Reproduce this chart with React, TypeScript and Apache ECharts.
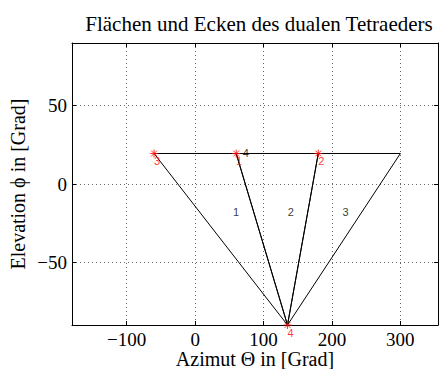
import React, { useEffect, useRef } from "react";
import * as echarts from "echarts";

const titleText = "Flächen und Ecken des dualen Tetraeders";
const xName = "Azimut Θ in [Grad]";
const yName = "Elevation ϕ in [Grad]";

const xTicks = [-100, 0, 100, 200, 300];
const yTicks = [-50, 0, 50];
const xMin = -180;
const xMax = 355;
const yMin = -90;
const yMax = 90;

// vertices of the dual tetrahedron (red)
const vertexAz = [60, 180, -60, 135];
const vertexEl = [19.47, 19.47, 19.47, -90];
const vertexLabels = ["1", "2", "3", "4"];

// face outlines
const face1Az = [-60, 60, 135, -60];
const face1El = [19.47, 19.47, -90, 19.47];
const face2Az = [60, 180, 135, 60];
const face2El = [19.47, 19.47, -90, 19.47];
const face3Az = [180, 300, 135, 180];
const face3El = [19.47, 19.47, -90, 19.47];

// face labels (black)
const faceLabelAz = [60, 140, 220, 74];
const faceLabelEl = [-18, -18, -18, 19.5];
const faceLabels = ["1", "2", "3", "4"];

const serif = "Liberation Serif";
const sans = "Liberation Sans";
const minus = (v: number) => String(v).replace("-", "\u2212");

const star =
  "path://M0,-5L0,5M-5,0L5,0M-3.6,-3.6L3.6,3.6M-3.6,3.6L3.6,-3.6";

export default function App() {
  const ref = useRef<HTMLDivElement>(null);
  useEffect(() => {
    const chart = echarts.init(ref.current!, null, { renderer: "svg" });
    const zip = (a: number[], b: number[]) => a.map((v, i) => [v, b[i]]);
    const faceSeries = [
      zip(face1Az, face1El),
      zip(face2Az, face2El),
      zip(face3Az, face3El),
    ].map((d) => ({
      type: "line",
      data: d,
      symbol: "none",
      lineStyle: { color: "#000", width: 1 },
      clip: false,
      z: 2,
    }));
    const axisCommonX = {
      type: "value",
      min: xMin,
      max: xMax,
      axisLine: { show: true, onZero: false, lineStyle: { color: "#000", width: 1 } },
      axisTick: { show: true, inside: true, length: 4, customValues: xTicks, lineStyle: { color: "#000" } },
    };
    const axisCommonY = {
      type: "value",
      min: yMin,
      max: yMax,
      axisLine: { show: true, onZero: false, lineStyle: { color: "#000", width: 1 } },
      axisTick: { show: true, inside: true, length: 4, customValues: yTicks, lineStyle: { color: "#000" } },
    };
    chart.setOption({
      animation: false,
      backgroundColor: "#fff",
      title: {
        text: titleText,
        left: 254,
        top: 8,
        textAlign: "center",
        textStyle: { fontFamily: serif, fontSize: 21, fontWeight: "normal", color: "#000" },
      },
      grid: {
        left: 72,
        top: 43,
        width: 366,
        height: 282,
        containLabel: false,
        outerBoundsMode: "none",
      },
      xAxis: [
        {
          ...axisCommonX,
          position: "bottom",
          name: xName,
          nameLocation: "middle",
          nameGap: 24,
          nameMoveOverlap: false,
          nameTextStyle: { fontFamily: serif, fontSize: 20, lineHeight: 20, color: "#000" },
          axisLabel: {
            customValues: xTicks,
            formatter: minus,
            fontFamily: serif,
            fontSize: 19,
            lineHeight: 18,
            color: "#000",
            margin: 5,
          },
          splitLine: { show: true, lineStyle: { color: "#666", type: [1, 3], width: 1 } },
        },
        {
          ...axisCommonX,
          position: "top",
          axisLabel: { show: false },
          splitLine: { show: false },
        },
      ],
      yAxis: [
        {
          ...axisCommonY,
          position: "left",
          name: yName,
          nameLocation: "middle",
          nameGap: 44,
          nameMoveOverlap: false,
          nameTextStyle: { fontFamily: serif, fontSize: 20, color: "#000" },
          axisLabel: {
            customValues: yTicks,
            formatter: minus,
            fontFamily: serif,
            fontSize: 19,
            color: "#000",
            margin: 5,
          },
          splitLine: { show: true, lineStyle: { color: "#666", type: [1, 3], width: 1 } },
        },
        {
          ...axisCommonY,
          position: "right",
          axisLabel: { show: false },
          splitLine: { show: false },
        },
      ],
      series: [
        ...faceSeries,
        {
          type: "scatter",
          data: faceLabelAz.map((v, i) => ({ value: [v, faceLabelEl[i]], name: faceLabels[i] })),
          symbolSize: 0,
          clip: false,
          label: {
            show: true,
            position: "inside",
            formatter: "{b}",
            fontFamily: sans,
            fontSize: 11,
            color: "#000",
          },
          z: 3,
        },
        {
          type: "scatter",
          data: vertexAz.map((v, i) => ({ value: [v, vertexEl[i]], name: vertexLabels[i] })),
          symbol: star,
          symbolSize: 8,
          clip: false,
          itemStyle: { color: "none", borderColor: "#ff0000", borderWidth: 1 },
          label: {
            show: true,
            position: "inside",
            offset: [3, 8],
            formatter: "{b}",
            fontFamily: sans,
            fontSize: 11,
            color: "#ff0000",
          },
          z: 4,
        },
      ],
    });
    return () => chart.dispose();
  }, []);
  return (
    <div
      ref={ref}
      style={{ position: "fixed", left: 0, top: 0, width: 443, height: 369 }}
    />
  );
}
